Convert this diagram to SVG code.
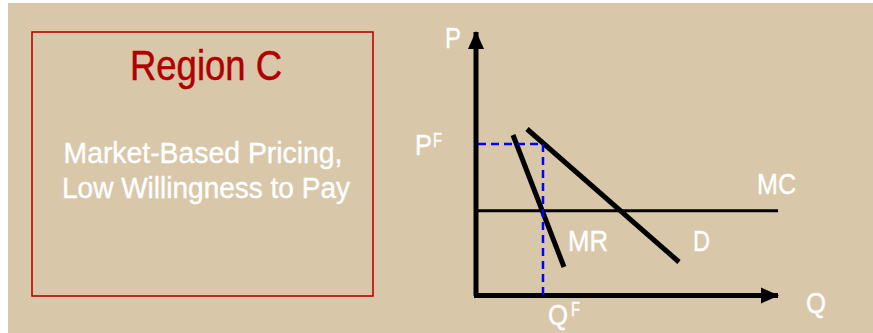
<svg xmlns="http://www.w3.org/2000/svg" width="873" height="333" viewBox="0 0 873 333">
<style>
text{font-family:"Liberation Sans Narrow","Arial Narrow","Liberation Sans",Arial,sans-serif}
.w{fill:#FFFFFF;stroke:#FFFFFF;stroke-width:0.4}
.lab{font-size:29px}
.sup{font-size:20px}
.ax{stroke:#000;stroke-width:5;fill:none}
.crv{stroke:#000;stroke-width:5;fill:none}
.dash{stroke:#0000FF;stroke-width:2.5;stroke-dasharray:8 5;fill:none}
</style>
<defs>
<marker id="ah" markerUnits="userSpaceOnUse" markerWidth="18" markerHeight="18" viewBox="0 0 18 18" refX="17" refY="9" orient="auto">
<path d="M0,1 L18,9 L0,17 Z" fill="#000"/>
</marker>
</defs>
<rect x="0" y="0" width="873" height="333" fill="#FFFFFF"/>
<rect x="8" y="3" width="865" height="330" fill="#D9C7A9"/>
<g id="region-box">
<rect x="32" y="32" width="341" height="264" fill="none" stroke="#C00000" stroke-width="1.6"/>
<text x="206" y="80" text-anchor="middle" font-size="42" fill="#B00000" stroke="#B00000" stroke-width="0.5" textLength="152" lengthAdjust="spacingAndGlyphs">Region C</text>
<text class="w" x="203" y="163" text-anchor="middle" font-size="30" textLength="279" lengthAdjust="spacingAndGlyphs">Market-Based Pricing,</text>
<text class="w" x="206" y="198" text-anchor="middle" font-size="30" textLength="288" lengthAdjust="spacingAndGlyphs">Low Willingness to Pay</text>
</g>
<g id="connectors">
<line class="ax" x1="476" y1="296" x2="476" y2="32" marker-end="url(#ah)"/>
<line class="ax" x1="474" y1="295.5" x2="778" y2="295.5" marker-end="url(#ah)"/>
<line x1="476" y1="210.7" x2="778" y2="210.7" stroke="#000" stroke-width="3"/>
<line class="crv" x1="513" y1="135" x2="564" y2="267"/>
<line class="crv" x1="527" y1="129" x2="679" y2="262"/>
<polyline class="dash" points="478,144 543,144 543,300"/>
</g>
<g id="labels">
<text class="w lab" x="445" y="48" textLength="16" lengthAdjust="spacingAndGlyphs">P</text>
<text class="w lab" x="415" y="155" textLength="17" lengthAdjust="spacingAndGlyphs">P</text>
<text class="w sup" x="433" y="147" textLength="9" lengthAdjust="spacingAndGlyphs">F</text>
<text class="w lab" x="757" y="194" textLength="39" lengthAdjust="spacingAndGlyphs">MC</text>
<text class="w lab" x="568" y="251" textLength="40" lengthAdjust="spacingAndGlyphs">MR</text>
<text class="w lab" x="693" y="251" textLength="17" lengthAdjust="spacingAndGlyphs">D</text>
<text class="w lab" x="806" y="313" textLength="20" lengthAdjust="spacingAndGlyphs">Q</text>
<text class="w lab" x="548" y="325" textLength="20" lengthAdjust="spacingAndGlyphs">Q</text>
<text class="w sup" x="571" y="316" textLength="9" lengthAdjust="spacingAndGlyphs">F</text>
</g>
</svg>
